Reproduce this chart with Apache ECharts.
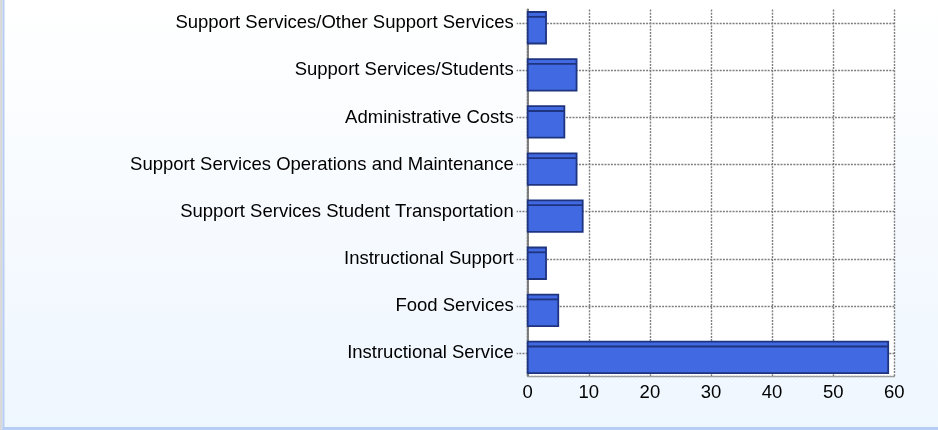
<!DOCTYPE html>
<html>
<head>
<meta charset="utf-8">
<script src="https://cdn.jsdelivr.net/npm/echarts@6/dist/echarts.min.js"></script>
<style>
html,body{margin:0;padding:0;}
#chart{width:938px;height:430px;}
</style>
</head>
<body>
<div id="chart"></div>
<script>
var categories = [
  'Support Services/Other Support Services',
  'Support Services/Students',
  'Administrative Costs',
  'Support Services Operations and Maintenance',
  'Support Services Student Transportation',
  'Instructional Support',
  'Food Services',
  'Instructional Service'
];
var values = [3, 8, 6, 8, 9, 3, 5, 59];
var xTicks = { min: 0, max: 60, interval: 10 };

var FONT = 'Arial, "Liberation Sans", sans-serif';
var GRID_L = 527.7, GRID_R = 938 - 894.3;
var dotted = { color: '#7e7e7e', type: [2, 1.2], width: 1.4 };

var barData = values.map(function (v, i) { return [v, i]; });

function renderItem(params, api) {
  var c = api.value(1);
  var v = api.value(0);
  var p0 = api.coord([0, c]);
  var p1 = api.coord([v, c]);
  var band = api.size([0, 1])[1];
  var h = band * 0.668;
  var x = p0[0], y = p0[1] - h / 2, w = p1[0] - p0[0];
  var stroke = '#1f347f';
  return {
    type: 'group',
    children: [
      { type: 'rect', shape: { x: x, y: y, width: w, height: h },
        style: { fill: '#4169e1', stroke: stroke, lineWidth: 1.8 } },
      { type: 'line', shape: { x1: x, y1: y + 4.8, x2: x + w, y2: y + 4.8 },
        style: { stroke: stroke, lineWidth: 1.8 } }
    ]
  };
}

var chart = echarts.init(document.getElementById('chart'), null, { renderer: 'canvas' });
chart.setOption({
  animation: false,
  backgroundColor: {
    type: 'linear', x: 0, y: 0, x2: 0, y2: 1,
    colorStops: [{ offset: 0, color: '#ffffff' }, { offset: 1, color: '#eef6ff' }]
  },
  graphic: [
    { type: 'rect', left: 0, top: 0, shape: { width: 2.5, height: 430 }, style: { fill: '#d9d9d9' }, silent: true },
    { type: 'rect', left: 2.5, top: 0, shape: { width: 2, height: 430 }, style: { fill: '#b7cdf3' }, silent: true },
    { type: 'rect', left: 2.5, top: 427, shape: { width: 936, height: 3 }, style: { fill: '#b7cdf3' }, silent: true }
  ],
  grid: [
    { left: GRID_L, right: GRID_R, top: 9.5, bottom: 54, show: true, backgroundColor: '#ffffff', borderWidth: 0 },
    { left: GRID_L, right: GRID_R, top: 4.2, bottom: 49 },
    { left: GRID_L, right: GRID_R, top: 23.3, bottom: 77 }
  ],
  xAxis: [
    { gridIndex: 0, type: 'value', position: 'bottom', min: xTicks.min, max: xTicks.max, interval: xTicks.interval,
      axisLine: { show: true, lineStyle: dotted }, axisTick: { show: false },
      axisLabel: { color: '#000', fontSize: 18.5, fontFamily: FONT, margin: 7 },
      splitLine: { show: true, lineStyle: dotted } },
    { gridIndex: 0, type: 'value', position: 'top', min: xTicks.min, max: xTicks.max, interval: xTicks.interval,
      axisLine: { show: true, lineStyle: { color: '#a0a0a0', type: [2, 1.2], width: 1 } }, axisTick: { show: false },
      axisLabel: { show: false }, splitLine: { show: false } },
    { gridIndex: 1, type: 'value', min: xTicks.min, max: xTicks.max, show: false },
    { gridIndex: 2, type: 'value', min: xTicks.min, max: xTicks.max, show: false }
  ],
  yAxis: [
    { gridIndex: 0, type: 'value', position: 'left', min: 0, max: 1,
      axisLine: { show: true, lineStyle: dotted }, axisTick: { show: false },
      axisLabel: { show: false }, splitLine: { show: false } },
    { gridIndex: 0, type: 'value', position: 'right', min: 0, max: 1,
      axisLine: { show: true, lineStyle: { color: '#7a7a7a', type: [2, 1.2], width: 2 } }, axisTick: { show: false },
      axisLabel: { show: false }, splitLine: { show: false } },
    { gridIndex: 1, type: 'category', data: categories, inverse: true, show: false },
    { gridIndex: 2, type: 'category', data: categories, inverse: true, boundaryGap: false,
      axisLine: { show: false },
      axisTick: { show: true, length: 11, lineStyle: dotted },
      axisLabel: { color: '#000', fontSize: 18.5, fontFamily: FONT, margin: 14, interval: 0 },
      splitLine: { show: true, interval: 0, lineStyle: dotted } }
  ],
  series: [
    { type: 'custom', xAxisIndex: 2, yAxisIndex: 2, renderItem: renderItem,
      encode: { x: 0, y: 1 }, data: barData, z: 5 }
  ]
});
</script>
</body>
</html>
